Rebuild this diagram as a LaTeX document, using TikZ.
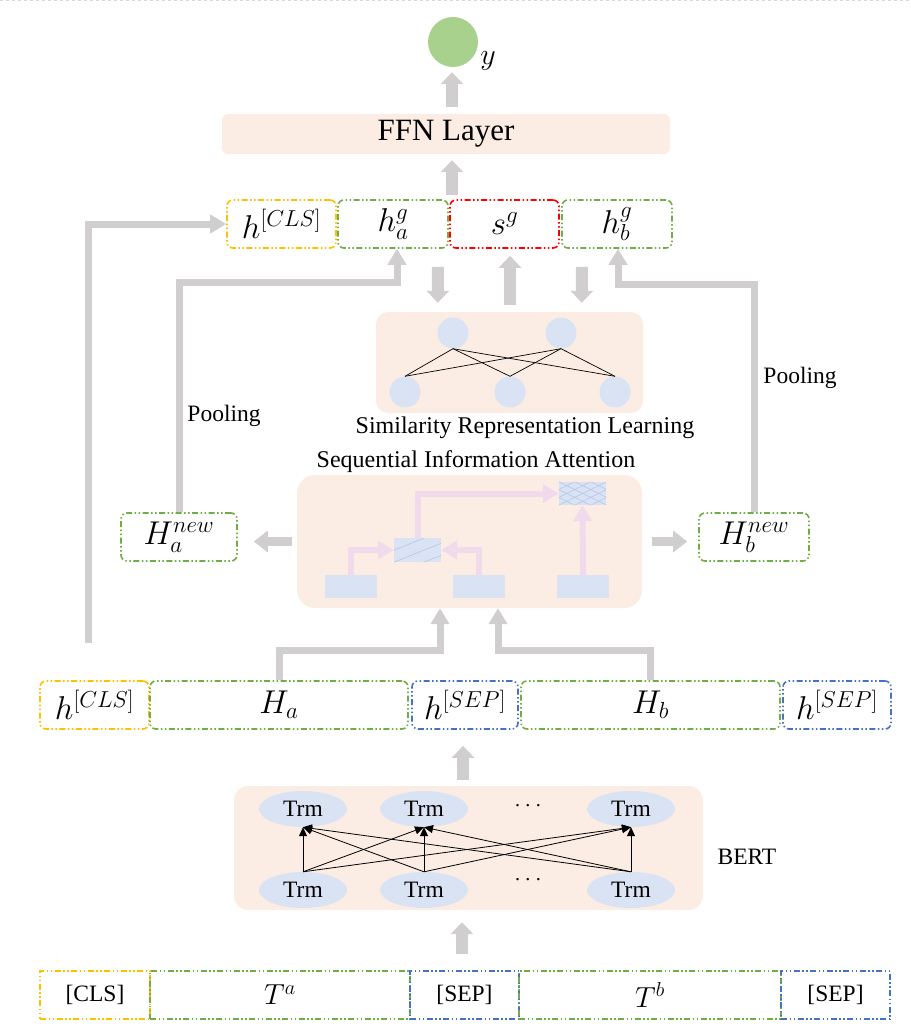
\RequirePackage{fix-cm}
\documentclass[tikz,border=0pt]{standalone}
\usepackage{fontspec}
\setmainfont{Liberation Serif}
\usetikzlibrary{arrows.meta,shapes.geometric,calc}
\definecolor{peach}{HTML}{FBEDE4}
\definecolor{lblue}{HTML}{DAE3F3}
\definecolor{hatchc}{HTML}{B4C7E7}
\definecolor{gcol}{HTML}{D0CECE}
\definecolor{pinkc}{HTML}{F0DAEC}
\definecolor{gcirc}{HTML}{A9D18E}
\definecolor{cyel}{HTML}{FFC000}
\definecolor{cgrn}{HTML}{70AD47}
\definecolor{cblu}{HTML}{4472C4}
\definecolor{cred}{HTML}{FF0000}
\begin{document}
\begin{tikzpicture}[x=1pt,y=-1pt,
  lbl/.style={font=\fontsize{23.5}{27}\selectfont},
  mlbl/.style={font=\fontsize{33}{36}\selectfont},
  dd/.style={line width=1.6pt, dash pattern=on 6pt off 2.5pt on 1.5pt off 2.5pt on 1.5pt off 2.5pt},
  hb/.style={dd, rounded corners=6pt, minimum height=48pt, inner sep=0pt, mlbl},
  tb/.style={dd, minimum height=48pt, inner sep=0pt},
  panel/.style={fill=peach, inner sep=0pt},
  garr/.style={draw=gcol, line width=12pt, -{Triangle[width=22pt,length=12pt]}},
  harr/.style={draw=gcol, line width=9pt, -{Triangle[width=21pt,length=14pt]}},
  gline/.style={draw=gcol, line width=7pt, line join=miter, -{Triangle[width=18pt,length=16pt]}},
  parr/.style={draw=pinkc, line width=6pt, line join=miter, -{Triangle[width=18pt,length=16pt]}},
  lrect/.style={fill=lblue, inner sep=0pt},
  trm/.style={ellipse, fill=lblue, minimum width=88pt, minimum height=36pt, inner sep=0pt, lbl},
  dot/.style={circle, fill=lblue, minimum size=31pt, inner sep=0pt},
  thinarr/.style={draw=black, line width=0.8pt, -{Triangle[width=8pt,length=9pt]}}
]
\useasboundingbox (0,0) rectangle (910,1027);
\draw[dashed, black!15, line width=1pt] (0,1) -- (910,1);

% output
\node[circle, fill=gcirc, minimum size=50pt, inner sep=0pt] (y) at (453,42) {};
\node[font=\fontsize{30}{34}\selectfont] (ylab) at (488,61) {$y$};
\node[panel, rounded corners=6pt, minimum width=448pt, minimum height=40pt, font=\fontsize{31}{36}\selectfont] (ffn) at (446,134) {FFN Layer};
\draw[garr] ($(ffn.north)+(6,-7)$) -- ($(y.south)+(-1,5)$);

% top row
\node[hb, draw=cyel, minimum width=109pt] (hcls2) at (281.5,224) {$h^{[CLS]}$};
\node[hb, draw=cgrn, minimum width=110pt] (hag) at (393,224) {$h_a^g$};
\node[hb, draw=cred, minimum width=109pt] (sg) at (504.5,224) {$s^g$};
\node[hb, draw=cgrn, minimum width=110pt] (hbg) at (617,224) {$h_b^g$};
\draw[garr] ($(ffn.south)+(6,41)$) -- ($(ffn.south)+(6,6)$);

% similarity block
\node[panel, rounded corners=12pt, minimum width=267pt, minimum height=101pt] (sim) at (509.5,362.5) {};
\node[dot] (s1) at (453,333) {};
\node[dot] (s2) at (561,333) {};
\node[dot] (b1) at (405,392) {};
\node[dot] (b2) at (510,392) {};
\node[dot] (b3) at (615,392) {};
\foreach \s in {s1,s2}{
  \foreach \b in {b1,b2,b3}{
    \draw[black, line width=0.7pt] (\s.south) -- (\b.north);
  }
}
\node[lbl, font=\fontsize{24}{28}\selectfont] (simlab) at (525,428) {Similarity Representation Learning};
\draw[garr] ($(hag.south)+(45,18)$) -- ($(sim.north west)+(62,-9)$);
\draw[garr] ($(sim.north)+(0.5,-7)$) -- ($(sg.south)+(5.5,7)$);
\draw[garr] ($(hbg.south)+(-35,18)$) -- ($(sim.north west)+(206,-9)$);

% sequential information attention
\node[lbl, font=\fontsize{24}{28}\selectfont] (sialab) at (476,462) {Sequential Information Attention};
\node[panel, rounded corners=18pt, minimum width=345pt, minimum height=133pt] (sia) at (469.5,541.5) {};
\node[lrect, minimum width=52pt, minimum height=23pt] (r1) at (351,586.5) {};
\node[lrect, minimum width=52pt, minimum height=23pt] (r2) at (479,586.5) {};
\node[lrect, minimum width=52pt, minimum height=23pt] (r3) at (583,586.5) {};
\node[lrect, minimum width=47pt, minimum height=24pt] (mid) at (417.5,550) {};
\node[lrect, minimum width=47pt, minimum height=23pt] (top) at (582.5,493.5) {};
\begin{scope}
  \clip (mid.south west) rectangle (mid.north east);
  \foreach \k in {-30,0,30}{
    \draw[hatchc, line width=0.6pt] ($(mid.south west)+(\k,0)$) -- ++(60,-24);
  }
\end{scope}
\begin{scope}
  \clip (top.south west) rectangle (top.north east);
  \foreach \k in {-48,-32,-16,0,16,32,48}{
    \draw[hatchc, line width=0.6pt] ($(top.south west)+(\k,0)$) -- ++(47,-23);
    \draw[hatchc, line width=0.6pt] ($(top.north west)+(\k,0)$) -- ++(47,23);
  }
\end{scope}
\draw[parr] (r1.north) |- (mid.west);
\draw[parr] (r2.north) |- (mid.east);
\draw[parr] (mid.north) |- (top.west);
\draw[parr] (r3.north) -- (top.south);

\node[hb, draw=cgrn, minimum width=116pt] (Hanew) at (179,537) {$H_a^{new}$};
\node[hb, draw=cgrn, minimum width=110pt] (Hbnew) at (754,537) {$H_b^{new}$};
\draw[harr] ($(sia.west)+(-5,0)$) -- ($(Hanew.east |- sia.west)+(16,0)$);
\draw[harr] ($(sia.east)+(10,0)$) -- ($(Hbnew.west |- sia.east)+(-11,0)$);

% pooling
\draw[gline] (Hanew.north) -- ++(0,-230) -| ($(hag.south)+(4,0)$);
\draw[gline] (Hbnew.north) -- ++(0,-228) -| ($(hbg.south)+(1,0)$);
\node[lbl] (pool1) at (224,416) {Pooling};
\node[lbl] (pool2) at (800,378) {Pooling};

% hidden row
\node[hb, draw=cyel, minimum width=109pt] (hcls) at (94.5,705) {$h^{[CLS]}$};
\node[hb, draw=cgrn, minimum width=258pt] (Ha) at (279,705) {$H_a$};
\node[hb, draw=cblu, minimum width=106pt] (hsep1) at (465,705) {$h^{[SEP]}$};
\node[hb, draw=cgrn, minimum width=259pt] (Hb) at (650.5,705) {$H_b$};
\node[hb, draw=cblu, minimum width=108pt] (hsep2) at (837,705) {$h^{[SEP]}$};

\coordinate (lstart) at ($(hcls.north)+(-6.5,-37)$);
\draw[gline] (lstart) |- (hcls2.west);
\draw[gline] (Ha.north) -- ++(0,-30) -| ($(sia.south)+(-29.5,0)$);
\draw[gline] (Hb.north) -- ++(0,-30) -| ($(sia.south)+(28.5,0)$);

% BERT
\node[panel, rounded corners=14pt, minimum width=469pt, minimum height=124pt] (bert) at (468.5,848) {};
\node[trm] (t1) at (303,809) {Trm};
\node[trm] (t2) at (424,809) {Trm};
\node[trm] (t3) at (631,809) {Trm};
\node[trm] (u1) at (303,890) {Trm};
\node[trm] (u2) at (424,890) {Trm};
\node[trm] (u3) at (631,890) {Trm};
\node[lbl] (dots1) at (528,806) {$\cdots$};
\node[lbl] (dots2) at (528,880) {$\cdots$};
\foreach \u in {u1,u2,u3}{
  \foreach \t in {t1,t2,t3}{
    \draw[thinarr] (\u.north) -- (\t.south);
  }
}
\node[lbl] (bertlab) at (747,857) {BERT};
\draw[garr] ($(bert.north)+(-5.5,-6)$) -- ($(hsep1.south)+(-2,16)$);

% tokens
\node[tb, draw=cyel, minimum width=110pt, lbl] (cls) at (95,995) {[CLS]};
\node[tb, draw=cgrn, minimum width=260pt, font=\fontsize{29}{32}\selectfont] (Ta) at (280,995) {$T^a$};
\node[tb, draw=cblu, minimum width=109pt, lbl] (sep1) at (464.5,995) {[SEP]};
\node[tb, draw=cgrn, minimum width=262pt, font=\fontsize{29}{32}\selectfont] (Tb) at (650,995) {$T^b$};
\node[tb, draw=cblu, minimum width=109pt, lbl] (sep2) at (835.5,995) {[SEP]};
\draw[garr] ($(sep1.north)+(-2.5,-16)$) -- ($(bert.south)+(-6.5,12)$);
\end{tikzpicture}
\end{document}
